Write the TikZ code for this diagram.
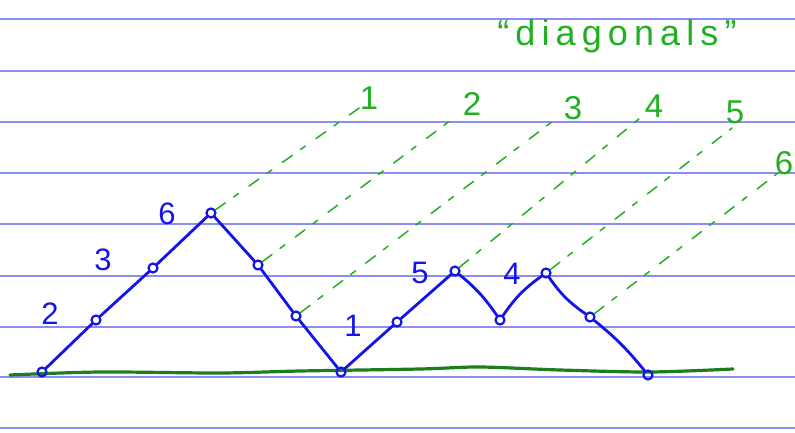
\documentclass[tikz,border=0pt]{standalone}
\usepackage{fontspec}
\setsansfont{Liberation Sans}
\definecolor{rule}{HTML}{8C8CF5}
\definecolor{ink}{HTML}{1414E6}
\definecolor{base}{HTML}{1E7D1E}
\definecolor{hl}{HTML}{22B022}
\begin{document}
\begin{tikzpicture}[x=1pt,y=-1pt,
  pt/.style={circle,draw=ink,line width=2.2pt,inner sep=0pt,minimum size=9pt},
  seg/.style={draw=ink,line width=2.8pt,line cap=round,line join=round},
  diag/.style={draw=hl,line width=1.5pt,dash pattern=on 12pt off 10pt on 6pt off 13pt,line cap=round},
  num/.style={text=ink,font=\sffamily\fontsize{31}{31}\selectfont,inner sep=0pt},
  gnum/.style={text=hl,font=\sffamily\fontsize{33}{33}\selectfont,inner sep=0pt},
  ruleline/.style={draw=rule,line width=1.3pt}]
\useasboundingbox (0,0) rectangle (795,433);
\fill[white] (0,0) rectangle (795,433);
\foreach \y in {19,71,122,173,224,276,327,377,428}
  \draw[ruleline] (0,\y) -- (795,\y);
% baseline
\draw[base,line width=3.2pt,line cap=round] plot[smooth] coordinates
  {(10,375) (100,372) (220,373) (300,371) (420,369) (480,367) (560,370) (650,372) (733,369)};
% points
\node[pt] (p0) at (42,372) {};
\node[pt] (p1) at (96,320) {};
\node[pt] (p2) at (153,268) {};
\node[pt] (p3) at (211,213) {};
\node[pt] (p4) at (258,265) {};
\node[pt] (p5) at (296,316) {};
\node[pt] (p6) at (341,372) {};
\node[pt] (p7) at (397,322) {};
\node[pt] (p8) at (455,271) {};
\node[pt] (p9) at (500,320) {};
\node[pt] (p10) at (546,273) {};
\node[pt] (p11) at (590,317) {};
\node[pt] (p12) at (648,375) {};
% blue path
\draw[seg] (p0) -- (p1) -- (p2) -- (p3);
\draw[seg] (p3) -- (p4) -- (p5) -- (p6) -- (p7) -- (p8);
\draw[seg] (p8) to[bend left=8] (p9);
\draw[seg] (p9) to[bend left=10] (p10);
\draw[seg] (p10) to[bend right=10] (p11);
\draw[seg] (p11) to[bend left=6] (p12);
% diagonal ends
\coordinate (e1) at (362,106);
\coordinate (e2) at (455,117);
\coordinate (e3) at (557,118);
\coordinate (e4) at (640,118);
\coordinate (e5) at (732,128);
\coordinate (e6) at (778,173);
\draw[diag] (p3) -- (e1);
\draw[diag] (p4) -- (e2);
\draw[diag] (p5) -- (e3);
\draw[diag] (p8) -- (e4);
\draw[diag] (p10) -- (e5);
\draw[diag] (p11) -- (e6);
% blue labels
\node[num] (l2) at (50,314) {2};
\node[num] (l3) at (103,260) {3};
\node[num] (l6) at (167,214) {6};
\node[num] (l1) at (353,326) {1};
\node[num] (l5) at (420,273) {5};
\node[num] (l4) at (512,274) {4};
% green labels
\node[gnum] (g1) at (369,98) {1};
\node[gnum] (g2) at (472,104) {2};
\node[gnum] (g3) at (573,108) {3};
\node[gnum] (g4) at (654,106) {4};
\node[gnum] (g5) at (735,112) {5};
\node[gnum] (g6) at (784,163) {6};
\node[text=hl,font=\sffamily\fontsize{36}{36}\selectfont\addfontfeature{LetterSpace=17},inner sep=0pt] (title) at (617,36) {“diagonals”};
\end{tikzpicture}
\end{document}
